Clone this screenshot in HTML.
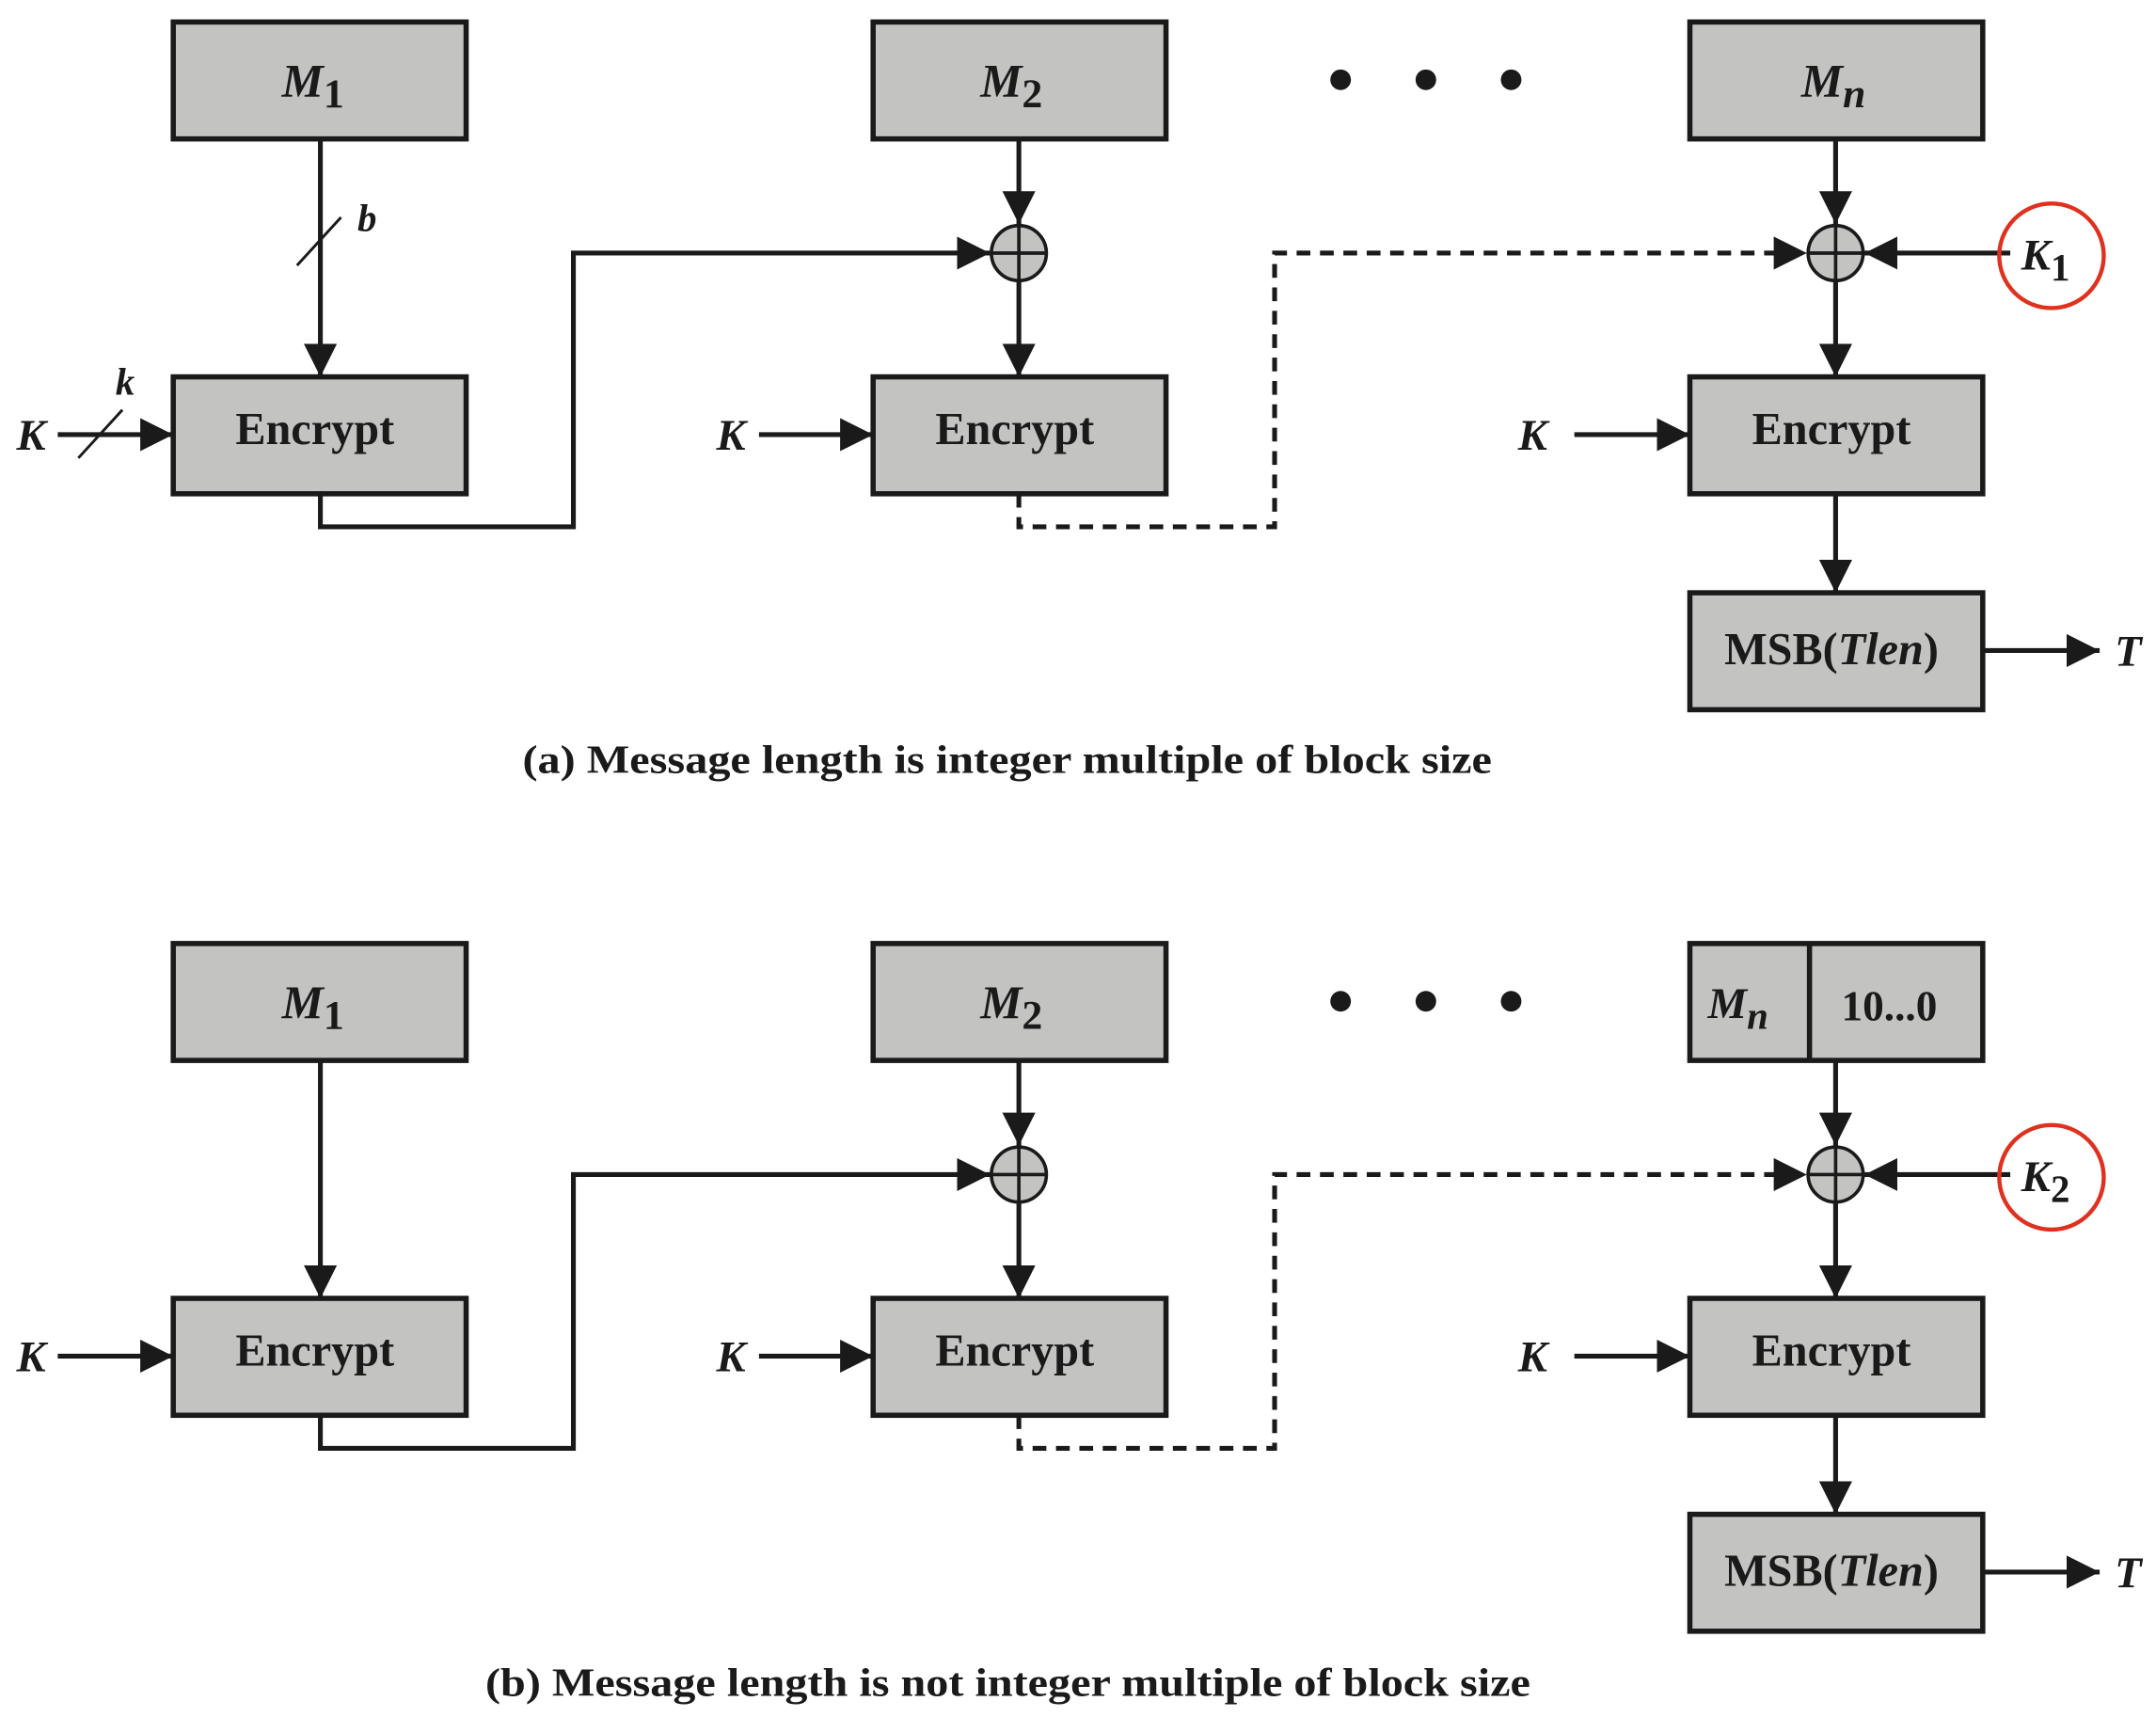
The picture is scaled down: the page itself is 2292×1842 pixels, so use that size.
<!DOCTYPE html>
<html><head><meta charset="utf-8"><style>
html,body{margin:0;padding:0;background:#fff;}
svg{display:block;}
text{font-family:"Liberation Serif",serif;font-weight:bold;fill:#1a1a1a;}
.it{font-style:italic;}
</style></head><body>
<svg width="2292" height="1842" viewBox="0 0 1568 1260" preserveAspectRatio="none" xmlns="http://www.w3.org/2000/svg">
<defs>
<marker id="ar" viewBox="0 0 24 24" refX="24" refY="12" markerWidth="24" markerHeight="24" markerUnits="userSpaceOnUse" orient="auto">
<path d="M0,0 L24,12 L0,24 Z" fill="#1a1a1a"/>
</marker>
<g id="panel">
 <g fill="#c3c4c2" stroke="#1a1a1a" stroke-width="3.8">
  <rect x="126" y="16" width="213" height="85"/>
  <rect x="635" y="16" width="213" height="85"/>
  <rect x="126" y="274" width="213" height="85"/>
  <rect x="635" y="274" width="213" height="85"/>
  <rect x="1229" y="274" width="213" height="85"/>
  <rect x="1229" y="431" width="213" height="85"/>
 </g>
 <g fill="#1a1a1a">
  <circle cx="975" cy="58" r="7.5"/><circle cx="1037" cy="58" r="7.5"/><circle cx="1099" cy="58" r="7.5"/>
 </g>
 <g stroke="#1a1a1a" stroke-width="3.5" fill="none">
  <line x1="741" y1="101" x2="741" y2="163" marker-end="url(#ar)"/>
  <line x1="741" y1="205" x2="741" y2="274" marker-end="url(#ar)"/>
  <polyline points="233,359 233,383 417,383 417,184 720,184" marker-end="url(#ar)"/>
  <polyline points="741,359 741,383 927,383 927,184 1314,184" stroke-dasharray="10,7" marker-end="url(#ar)"/>
  <line x1="1335" y1="101" x2="1335" y2="163" marker-end="url(#ar)"/>
  <line x1="1335" y1="205" x2="1335" y2="274" marker-end="url(#ar)"/>
  <line x1="1462" y1="184" x2="1356" y2="184" marker-end="url(#ar)"/>
  <line x1="1335" y1="359" x2="1335" y2="431" marker-end="url(#ar)"/>
  <line x1="1442" y1="473" x2="1527" y2="473" marker-end="url(#ar)"/>
  <line x1="42" y1="316" x2="126" y2="316" marker-end="url(#ar)"/>
  <line x1="552" y1="316" x2="635" y2="316" marker-end="url(#ar)"/>
  <line x1="1145" y1="316" x2="1229" y2="316" marker-end="url(#ar)"/>
 </g>
 <g stroke="#1a1a1a" stroke-width="2.5" fill="#c3c4c2">
  <circle cx="741" cy="184" r="20"/><circle cx="1335" cy="184" r="20"/>
  <path d="M721,184 H761 M741,164 V204 M1315,184 H1355 M1335,164 V204" fill="none"/>
 </g>
 <g font-size="33" text-anchor="middle">
  <text x="229" y="323">Encrypt</text>
  <text x="738" y="323">Encrypt</text>
  <text x="1332" y="323">Encrypt</text>
  <text x="1332" y="483">MSB(<tspan class="it">Tlen</tspan>)</text>
 </g>
 <g font-size="32" class="it">
  <text x="12" y="327">K</text>
  <text x="521" y="327">K</text>
  <text x="1104" y="327">K</text>
  <text x="1538" y="484">T</text>
 </g>
</g>
</defs>

<use href="#panel"/>
<use href="#panel" y="670"/>

<rect x="1229" y="16" width="213" height="85" fill="#c3c4c2" stroke="#1a1a1a" stroke-width="3.8"/>
<text x="205" y="70" font-size="34" class="it">M<tspan font-style="normal" font-size="30" dy="8">1</tspan></text>
<text x="713" y="70" font-size="34" class="it">M<tspan font-style="normal" font-size="30" dy="8">2</tspan></text>
<text x="1310" y="70" font-size="34" class="it">M<tspan font-size="30" dy="8">n</tspan></text>
<line x1="233" y1="101" x2="233" y2="274" stroke="#1a1a1a" stroke-width="3.5" marker-end="url(#ar)"/>
<line x1="216" y1="193" x2="248" y2="158" stroke="#1a1a1a" stroke-width="2"/>
<text x="260" y="168" font-size="28" class="it">b</text>
<line x1="57" y1="333" x2="89" y2="298" stroke="#1a1a1a" stroke-width="2"/>
<text x="84" y="287" font-size="28" class="it">k</text>
<ellipse cx="1492" cy="186" rx="38" ry="38" fill="none" stroke="#e0301e" stroke-width="3"/>
<text x="1470" y="196" font-size="32" class="it">K<tspan font-style="normal" font-size="28" dy="8">1</tspan></text>
<text x="380" y="562" font-size="29" textLength="705" lengthAdjust="spacingAndGlyphs">(a) Message length is integer multiple of block size</text>

<rect x="1229" y="686" width="213" height="85" fill="#c3c4c2" stroke="#1a1a1a" stroke-width="3.8"/>
<line x1="1316" y1="686" x2="1316" y2="771" stroke="#1a1a1a" stroke-width="3.8"/>
<text x="205" y="740" font-size="34" class="it">M<tspan font-style="normal" font-size="30" dy="8">1</tspan></text>
<text x="713" y="740" font-size="34" class="it">M<tspan font-style="normal" font-size="30" dy="8">2</tspan></text>
<text x="1242" y="740" font-size="32" class="it">M<tspan font-size="28" dy="8">n</tspan></text>
<text x="1374" y="742" font-size="31" text-anchor="middle">10...0</text>
<line x1="233" y1="771" x2="233" y2="944" stroke="#1a1a1a" stroke-width="3.5" marker-end="url(#ar)"/>
<ellipse cx="1492" cy="856" rx="38" ry="38" fill="none" stroke="#e0301e" stroke-width="3"/>
<text x="1470" y="866" font-size="32" class="it">K<tspan font-style="normal" font-size="28" dy="8">2</tspan></text>
<text x="353" y="1233" font-size="29" textLength="760" lengthAdjust="spacingAndGlyphs">(b) Message length is not integer multiple of block size</text>
</svg>
</body></html>
